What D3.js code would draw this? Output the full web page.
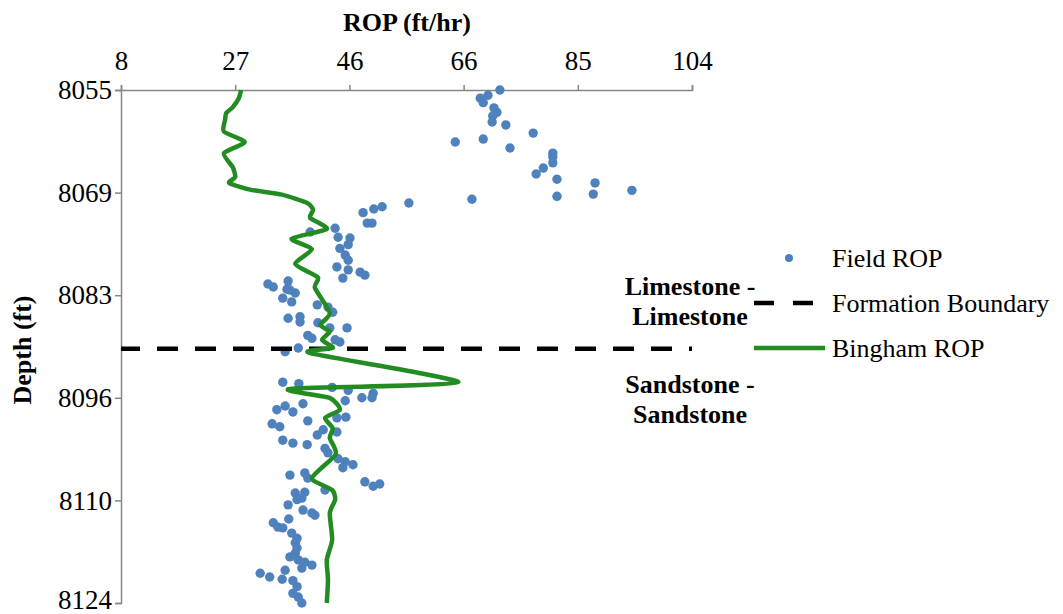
<!DOCTYPE html>
<html>
<head>
<meta charset="utf-8">
<script src="https://cdn.jsdelivr.net/npm/d3@7/dist/d3.min.js"></script>
<style>
  html, body { margin: 0; padding: 0; background: #fff; }
  svg { display: block; font-family: "Liberation Serif", "Times New Roman", serif; }
  svg text { font-family: "Liberation Serif", "Times New Roman", serif; }
</style>
</head>
<body>
<svg id="chart" width="1063" height="614"></svg>
<script>
// Axis ticks (values and printed labels)
const ropTicks = [8, 27.2, 46.4, 65.6, 84.8, 104];
const ropTickLabels = ["8", "27", "46", "66", "85", "104"];
const depthTicks = [8055, 8068.8, 8082.6, 8096.4, 8110.2, 8124];
const depthTickLabels = ["8055", "8069", "8083", "8096", "8110", "8124"];

// Field ROP measurements (ft/hr) and their depths (ft)
const fieldRop = [
  71.7, 69.7, 68.4, 68.9, 70.7, 71.2, 70.5, 70.4, 72.7, 77.3, 64.2, 68.9, 73.4, 80.6, 80.6, 80.6,
  79.0, 77.8, 81.3, 87.7, 93.9, 87.4, 81.3, 67.0,
  56.4, 51.9, 50.5, 48.7, 49.4, 50.2, 44.0, 39.8, 44.5, 46.5, 46.2, 44.8, 45.7, 46.2, 44.3, 46.2,
  48.2, 49.0, 45.3,
  32.7, 33.6, 36.1, 35.9, 36.4, 37.3, 35.2, 36.7, 41.0, 42.8, 43.6, 36.1, 38.1, 38.1, 41.1, 43.1,
  46.0, 39.4, 40.1, 44.0, 44.8, 35.6, 37.8,
  35.2, 37.9, 43.5, 46.2, 50.4, 50.2, 48.5, 45.7, 34.2, 35.6, 36.9, 38.6, 33.4, 34.7, 39.4, 45.8,
  44.3, 44.3, 42.0, 41.0, 35.2, 36.9, 39.3, 42.3, 42.8, 44.5, 45.7, 47.0, 45.3, 36.4, 38.9, 39.4,
  42.3, 49.0, 50.4, 51.5,
  37.3, 38.9, 38.4, 37.6, 36.1, 38.6, 40.1, 40.6, 36.2, 33.6, 34.4, 35.2, 36.7, 37.6, 37.3, 37.6,
  37.3, 36.4, 37.8, 38.9, 40.1, 38.4, 35.6, 31.4, 33.0, 35.1, 36.9, 37.6, 36.9, 37.8, 38.4
];
const fieldDepth = [
  8055.0, 8055.7, 8056.1, 8056.7, 8057.4, 8058.0, 8058.5, 8059.3, 8059.7, 8060.8, 8062.0, 8061.6, 8062.8, 8063.5, 8064.0, 8064.8,
  8065.5, 8066.3, 8067.0, 8067.5, 8068.5, 8069.0, 8069.3, 8069.7,
  8070.2, 8070.7, 8071.0, 8071.5, 8072.9, 8072.9, 8073.6, 8074.1, 8074.8, 8074.9, 8075.8, 8076.3, 8077.2, 8077.9, 8078.8, 8079.2,
  8079.5, 8079.9, 8080.3,
  8081.1, 8081.5, 8080.7, 8081.8, 8081.9, 8082.3, 8083.0, 8083.5, 8083.9, 8084.2, 8084.9, 8085.7, 8085.5, 8086.2, 8086.3, 8087.0,
  8087.0, 8088.0, 8088.4, 8088.6, 8088.9, 8090.2, 8089.7,
  8094.3, 8094.5, 8095.0, 8095.4, 8095.8, 8096.4, 8096.4, 8096.8, 8098.0, 8097.5, 8098.3, 8097.2, 8099.9, 8100.3, 8099.5, 8099.0,
  8099.1, 8101.0, 8100.7, 8101.4, 8102.1, 8102.5, 8102.7, 8103.2, 8103.8, 8104.6, 8105.0, 8105.4, 8105.8, 8106.8, 8106.5, 8107.2,
  8108.8, 8107.7, 8108.3, 8108.0,
  8109.2, 8109.1, 8109.9, 8110.1, 8110.8, 8111.5, 8111.9, 8112.2, 8112.7, 8113.2, 8113.8, 8113.9, 8114.6, 8115.3, 8115.9, 8116.6,
  8117.3, 8117.8, 8118.2, 8118.5, 8118.9, 8119.3, 8119.6, 8120.0, 8120.5, 8120.8, 8121.0, 8121.8, 8122.7, 8123.2, 8124.0
];

// Bingham model ROP (ft/hr) along depth (ft)
const binghamDepth = [
  8055.0, 8056.1, 8057.3, 8058.1, 8059.0, 8060.6, 8062.0, 8063.5, 8065.4, 8066.7, 8067.5, 8068.4,
  8069.1, 8070.2, 8071.1, 8072.2, 8073.7, 8075.0, 8076.4, 8078.4, 8080.2, 8081.6, 8085.0, 8086.6,
  8087.5, 8088.6, 8089.7, 8090.4, 8094.3, 8095.2, 8096.4, 8098.0, 8099.1, 8100.5, 8101.8, 8104.0,
  8107.2, 8108.8, 8110.1, 8111.9, 8115.5, 8118.2, 8120.9, 8124.0
];
const binghamRop = [
  28.2, 27.8, 26.8, 25.7, 25.5, 25.3, 28.8, 25.3, 26.8, 27.2, 26.2, 29.7,
  35.2, 39.3, 40.3, 39.8, 42.6, 36.7, 40.1, 37.3, 41.1, 40.6, 43.1, 41.5,
  43.1, 41.8, 43.6, 39.8, 64.7, 36.4, 43.1, 44.8, 42.3, 43.6, 43.1, 44.1,
  40.1, 43.5, 44.0, 43.1, 43.5, 42.6, 42.8, 42.6
];

// Depth of the limestone / sandstone formation boundary (ft)
const boundaryDepth = 8089.8;

const legendItems = ["Field ROP", "Formation Boundary", "Bingham ROP"];
const upperFormation = ["Limestone -", "Limestone"];
const lowerFormation = ["Sandstone -", "Sandstone"];

const svg = d3.select("#chart");
const axisColor = "#868686";
const dotColor = "#4F81BD";
const lineColor = "#228B22";
const serif = "'Liberation Serif', 'Times New Roman', serif";

const x = d3.scaleLinear().domain([8, 104]).range([121, 692]);
const y = d3.scaleLinear().domain([8055, 8124]).range([90, 603]);

// Top axis (ROP)
const xAxis = svg.append("g")
  .attr("transform", `translate(0,${y(8055)})`)
  .call(d3.axisTop(x).tickValues(ropTicks)
    .tickFormat((d, i) => ropTickLabels[i]).tickSizeOuter(0).tickSize(5).tickPadding(15));
// Left axis (Depth)
const yAxis = svg.append("g")
  .attr("transform", `translate(${x(8)},0)`)
  .call(d3.axisLeft(y).tickValues(depthTicks)
    .tickFormat((d, i) => depthTickLabels[i]).tickSizeOuter(0).tickSize(6).tickPadding(3));

[xAxis, yAxis].forEach(g => {
  g.attr("font-family", serif).attr("font-size", 27);
  g.select(".domain").attr("stroke", axisColor).attr("stroke-width", 1.5);
  g.selectAll(".tick line").attr("stroke", axisColor).attr("stroke-width", 1.5);
  g.selectAll(".tick text").attr("fill", "#000");
});
// keep the lowest depth label inside the canvas
yAxis.selectAll(".tick text").filter((d, i) => i === depthTicks.length - 1).attr("dy", "0.2em");

// Axis titles
svg.append("text")
  .attr("x", 407).attr("y", 31)
  .attr("text-anchor", "middle")
  .attr("font-family", serif).attr("font-size", 26).attr("font-weight", "bold")
  .text("ROP (ft/hr)");
svg.append("text")
  .attr("transform", `translate(31,${350}) rotate(-90)`)
  .attr("text-anchor", "middle")
  .attr("font-family", serif).attr("font-size", 26).attr("font-weight", "bold")
  .text("Depth (ft)");

// Field ROP points
const field = fieldRop.map((r, i) => ({ rop: r, depth: fieldDepth[i] }));
svg.append("g").selectAll("circle")
  .data(field).join("circle")
  .attr("cx", d => x(d.rop))
  .attr("cy", d => y(d.depth))
  .attr("r", 4.7)
  .attr("fill", dotColor);

// Formation boundary
svg.append("line")
  .attr("x1", x(8)).attr("x2", x(104))
  .attr("y1", y(boundaryDepth)).attr("y2", y(boundaryDepth))
  .attr("stroke", "#000").attr("stroke-width", 4.5)
  .attr("stroke-dasharray", "21,17").attr("stroke-dashoffset", 2);

// Bingham ROP curve
const bingham = binghamRop.map((r, i) => ({ rop: r, depth: binghamDepth[i] }));
svg.append("path")
  .datum(bingham)
  .attr("fill", "none")
  .attr("stroke", lineColor)
  .attr("stroke-width", 4.5)
  .attr("stroke-linejoin", "round")
  .attr("d", d3.line().x(d => x(d.rop)).y(d => y(d.depth)).curve(d3.curveCardinal.tension(0.4)));

// Formation labels
const fmt = svg.append("g")
  .attr("font-family", serif).attr("font-size", 26).attr("font-weight", "bold")
  .attr("text-anchor", "middle");
upperFormation.forEach((t, i) => fmt.append("text").attr("x", 690).attr("y", 295 + i * 30).text(t));
lowerFormation.forEach((t, i) => fmt.append("text").attr("x", 690).attr("y", 393 + i * 30).text(t));

// Legend
const lg = svg.append("g").attr("font-family", serif).attr("font-size", 26);
const rowY = [258, 303, 348];
lg.append("circle").attr("cx", 789).attr("cy", rowY[0]).attr("r", 4).attr("fill", dotColor);
lg.append("line").attr("x1", 754).attr("x2", 823).attr("y1", rowY[1]).attr("y2", rowY[1])
  .attr("stroke", "#000").attr("stroke-width", 4.5).attr("stroke-dasharray", "20,19");
lg.append("line").attr("x1", 754).attr("x2", 825).attr("y1", rowY[2]).attr("y2", rowY[2])
  .attr("stroke", lineColor).attr("stroke-width", 4.5);
legendItems.forEach((t, i) => lg.append("text")
  .attr("x", 832).attr("y", rowY[i]).attr("dy", "0.33em").text(t));
</script>
</body>
</html>
